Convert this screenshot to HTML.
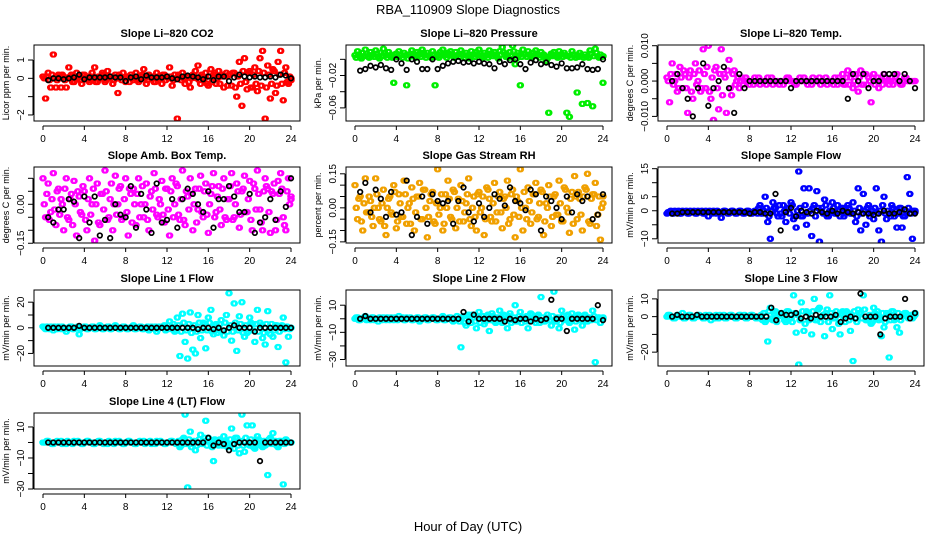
<!DOCTYPE html>
<html><head><meta charset="utf-8"><style>
body{margin:0;background:#fff;}
svg{display:block;font-family:"Liberation Sans",sans-serif;}
</style></head><body>
<svg id="chart" width="936" height="540">
<text x="468" y="14" text-anchor="middle" font-size="13">RBA_110909  Slope Diagnostics</text>
<text x="468" y="531" text-anchor="middle" font-size="13">Hour of Day (UTC)</text>
</svg>
<script>
const co2Vals=[0.1,-1.1,0.3,-0.5,1.3,-0.5,0.2,-0.5,0.1,-0.5,0.6,0.2,-0.2,0.3,0.1,-0.3,0.2,0.1,-0.2,0.3,0.6,-0.2,0.1,0.3,-0.2,0.4,0.1,-0.3,0.2,-0.8,0.1,0.3,-0.2,0.1,0.2,-0.1,0.3,-0.2,0.1,0.5,-0.3,0.2,0.1,-0.2,0.3,0.1,-0.3,0.2,0.1,0.6,-0.4,0.2,-2.2,0.1,0.3,-0.3,0.1,-0.5,0.2,0.4,0.7,-0.3,0.1,0.3,-0.4,0.5,0.2,-0.3,0.4,0.1,-0.5,0.3,0.2,-0.4,0.3,-1.0,0.9,-1.5,1.1,-0.6,0.4,-0.5,0.6,-0.7,1.1,1.5,-2.2,0.7,-1.1,0.5,-0.8,0.9,1.5,-1.2,0.6,-0.3,-0.1];
const co2Vals2=[0.0,0.1,-0.1,0.2,0.0,-0.1,0.1,0.2,-0.1,0.0,0.1,-0.2,0.1,0.0,-0.1,0.2,0.0,-0.1,0.1,0.0,-0.2,0.1,0.0,0.2,-0.1,0.0,0.1,-0.1,0.0,0.2,-0.1,0.0,0.1,-0.2,0.0,0.1,0.0,-0.1,0.2,0.0,-0.1,0.1,0.0,-0.2,0.1,0.0,0.2,-0.1,0.0,0.1,-0.1,0.0,0.2,-0.1,0.0,0.1,-0.2,0.0,0.1,0.0,-0.1,0.2,0.0,-0.3,0.1,-0.2,0.3,0.0,-0.3,0.2,0.1,-0.4,0.2,0.3,-0.5,0.1,-0.3,0.4,-0.2,0.3,-0.5,0.2,-0.3,0.4,-0.4,0.3,-0.5,0.2,-0.3,0.4,-0.4,0.2,-0.3,0.3,-0.2,0.1,0.0];
const co2Black=[-0.1,0,0,-0.05,0,0.05,0.2,-0.05,0.05,0.05,0.05,0.05,0.1,0.05,0.05,-0.15,0.05,0.1,-0.05,0.15,0.05,0.05,0.05,0.1,0.0,-0.05,0.1,0.15,0.1,0.05,-0.05,0.1,-0.1,0.1,0.1,-0.15,0.05,0.2,0.1,0.05,0.1,0.05,0.05,0.1,0.05,0.2,0.15,0.0];
const presVals=[0.005,0.01,0.003,0.008,0.012,0.004,0.009,0.006,0.011,0.003,0.008,0.013,0.005,0.009,0.004,-0.029,0.007,0.01,0.005,0.008,-0.032,0.006,0.011,0.004,0.009,0.007,0.012,0.005,0.008,0.004,0.01,-0.032,0.006,0.009,0.012,0.005,0.008,0.01,0.004,0.009,0.006,0.011,0.005,0.008,0.003,0.01,0.006,0.009,0.012,0.004,0.008,0.005,0.011,0.007,0.009,0.003,0.01,0.015,0.006,0.004,0.009,0.017,-0.006,0.008,-0.032,0.012,0.006,0.01,0.004,0.008,0.011,0.005,0.009,0.006,-0.002,-0.066,0.007,0.009,0.004,0.01,0.006,0.008,-0.066,-0.071,0.01,0.005,-0.041,0.008,-0.055,0.006,-0.054,0.011,-0.058,0.013,0.004,0.006,-0.029];
const presVals2=[0.002,0.006,0.001,0.004,0.007,0.002,0.005,0.003,0.007,0.001,0.004,0.008,0.002,0.005,0.002,0.006,0.003,0.006,0.002,0.005,0.001,0.004,0.007,0.002,0.005,0.003,0.008,0.002,0.005,0.002,0.006,0.003,0.002,0.005,0.007,0.002,0.005,0.006,0.002,0.005,0.003,0.007,0.002,0.005,0.001,0.006,0.003,0.005,0.007,0.002,0.005,0.002,0.007,0.004,0.005,0.001,0.006,0.009,0.003,0.002,0.005,0.01,0.001,0.005,0.003,0.007,0.003,0.006,0.002,0.005,0.007,0.002,0.005,0.003,0.001,0.004,0.004,0.005,0.002,0.006,0.003,0.005,0.004,0.002,0.006,0.002,0.003,0.005,0.002,0.003,0.002,0.007,0.004,0.008,0.002,0.003,0.004];
const presBlack=[-0.014,-0.012,-0.008,-0.01,-0.007,-0.011,-0.013,0.0,-0.005,-0.013,0.0,-0.003,-0.012,-0.012,0.0,-0.012,-0.008,-0.005,-0.003,-0.002,-0.004,-0.003,-0.005,-0.003,-0.005,-0.006,-0.011,-0.003,-0.006,-0.001,0.0,-0.006,-0.012,-0.004,-0.001,-0.006,-0.004,-0.007,-0.009,-0.005,-0.011,-0.011,-0.010,-0.006,-0.012,-0.013,-0.012,0.0];
const tempVals=[0.001,-0.006,0.005,0.0,-0.003,0.004,-0.002,0.002,-0.009,0.003,-0.005,0.005,0.0,-0.003,0.009,-0.002,0.010,-0.005,-0.011,0.004,-0.008,0.009,0.002,-0.009,0.006,-0.004,0.003,0.0,-0.002,0.001,0.0,0.0,-0.001,0.0,0.001,0.0,-0.001,0.0,0.0,0.001,0.0,-0.001,0.0,0.0,0.0,-0.001,0.0,0.001,0.0,0.0,-0.001,0.0,0.0,0.001,0.0,0.0,-0.001,0.0,0.0,0.001,0.0,0.0,-0.001,0.0,0.0,0.001,-0.001,0.0,0.002,-0.001,0.003,0.001,-0.002,0.002,-0.003,0.003,-0.001,0.002,0.001,-0.006,0.002,0.0,-0.002,0.001,0.002,0.0,-0.001,0.001,0.0,0.002,0.0,-0.001,0.001,0.0,0.0,0.0,0.0];
const tempVals2=[0.0,0.002,-0.001,0.002,-0.002,0.001,0.003,-0.002,0.001,-0.003,0.002,-0.001,0.003,-0.002,0.002,0.004,-0.003,0.001,0.003,-0.002,0.002,-0.004,0.001,0.003,-0.002,0.002,-0.001,0.001,0.0,-0.001,0.001,0.0,0.0,-0.001,0.0,0.001,0.0,0.0,-0.001,0.0,0.001,0.0,0.0,-0.001,0.0,0.0,0.001,0.0,0.0,-0.001,0.0,0.001,0.0,0.0,-0.001,0.0,0.001,0.0,0.0,-0.001,0.0,0.001,0.0,0.0,-0.001,0.0,0.001,0.0,-0.001,0.001,-0.001,0.002,0.0,-0.001,0.001,-0.001,0.002,-0.001,0.0,0.001,-0.001,0.001,0.0,-0.001,0.001,0.0,0.0,-0.001,0.001,0.0,-0.001,0.0,0.001,0.0,0.0,0.0,0.0];
const tempBlack=[0.0,0.002,-0.002,-0.005,-0.01,-0.002,0.005,-0.007,-0.002,0.0,0.004,-0.002,-0.009,0.002,-0.002,0.0,0.0,0.0,0.0,0.0,0.0,0.0,0.0,-0.002,0.0,0.0,0.0,0.0,0.0,0.0,0.0,0.0,0.0,0.0,-0.005,0.002,0.0,0.002,-0.002,0.0,0.0,0.002,0.002,0.002,0.0,0.002,0.0,-0.002];
const ambVals=[0.1,-0.05,0.08,-0.03,0.12,-0.08,0.06,0.02,-0.1,0.1,-0.06,0.04,0.09,-0.12,0.03,-0.04,0.05,-0.1,0.1,0.0,-0.14,0.08,-0.08,0.04,0.13,-0.06,0.02,-0.1,0.11,0.0,0.07,-0.05,0.1,-0.12,0.04,0.06,-0.08,0.1,0.0,-0.05,0.08,-0.1,0.05,0.12,-0.04,0.02,0.09,-0.07,0.06,-0.12,0.1,0.0,0.07,-0.06,0.13,-0.08,0.03,0.1,-0.1,0.06,-0.02,0.11,-0.05,0.08,-0.11,0.04,0.12,-0.03,0.07,-0.08,0.1,-0.06,0.02,0.12,-0.05,0.08,-0.09,0.05,0.11,-0.03,0.09,-0.1,0.06,0.13,-0.02,-0.1,0.1,0.06,-0.11,0.04,-0.1,0.09,0.12,-0.05,-0.1,0.1,0.03];
const ambVals2=[0.0,0.04,-0.06,0.02,-0.02,0.05,-0.04,0.0,0.06,-0.05,0.02,-0.08,0.0,0.05,-0.03,0.07,-0.06,0.02,-0.04,0.06,0.0,-0.07,0.04,-0.02,0.05,-0.05,0.08,0.0,-0.04,0.06,-0.06,0.02,-0.03,0.06,-0.07,0.0,0.04,-0.05,0.07,0.0,-0.06,0.03,-0.02,0.06,-0.05,0.0,-0.04,0.06,-0.02,0.05,-0.05,0.08,-0.04,0.02,-0.06,0.05,-0.02,0.04,0.0,-0.07,0.06,-0.03,0.05,-0.04,0.0,0.07,-0.05,0.03,-0.02,0.06,-0.05,0.02,0.07,-0.06,0.0,0.05,-0.04,0.06,-0.03,0.02,-0.06,0.08,-0.02,0.04,-0.07,0.05,0.07,-0.03,0.05,0.08,-0.06,0.04,0.06,-0.08,0.05,0.0,0.02];
const ambBlack=[-0.05,-0.07,-0.02,-0.02,0.02,0.01,-0.13,0.03,-0.07,0.03,-0.12,-0.06,-0.13,0.0,-0.04,-0.05,0.07,-0.09,0.04,-0.02,-0.11,0.08,-0.07,-0.06,0.02,-0.09,0.02,0.06,0.04,0.0,-0.03,0.05,-0.09,0.02,0.02,0.07,0.03,-0.03,-0.03,0.04,-0.11,-0.07,-0.05,0.02,-0.06,0.05,-0.01,0.1];
const rhVals=[0.1,-0.05,0.05,-0.1,0.13,-0.02,0.03,-0.08,0.13,0.0,-0.06,0.08,-0.12,0.04,-0.02,0.1,-0.09,0.06,-0.04,0.12,-0.07,0.02,0.09,-0.1,0.05,0.11,-0.05,0.08,-0.13,0.03,0.07,-0.07,0.17,0.0,-0.1,0.06,0.12,-0.04,0.08,-0.09,0.04,0.1,-0.06,0.02,0.13,-0.08,0.05,-0.1,0.07,0.0,-0.12,0.09,0.04,-0.06,0.11,-0.02,0.07,-0.09,0.05,0.12,-0.05,0.08,-0.13,0.03,0.17,-0.1,0.0,0.09,-0.07,0.06,0.11,-0.04,0.08,-0.12,0.02,0.1,-0.08,0.05,-0.03,0.12,-0.06,0.09,0.0,-0.11,0.07,0.14,-0.05,0.04,-0.1,0.09,0.15,-0.07,0.06,0.11,-0.03,-0.14,0.05];
const rhVals2=[0.0,0.04,-0.06,0.02,-0.02,0.05,-0.04,0.0,0.06,-0.05,0.02,-0.08,0.0,0.05,-0.03,0.07,-0.06,0.02,-0.04,0.06,0.0,-0.07,0.04,-0.02,0.05,-0.05,0.08,0.0,-0.04,0.06,-0.06,0.02,-0.03,0.06,-0.07,0.0,0.04,-0.05,0.07,0.0,-0.06,0.03,-0.02,0.06,-0.05,0.0,-0.04,0.06,-0.02,0.05,-0.05,0.08,-0.04,0.02,-0.06,0.05,-0.02,0.04,0.0,-0.07,0.06,-0.03,0.05,-0.04,0.0,0.07,-0.05,0.03,-0.02,0.06,-0.05,0.02,0.07,-0.06,0.0,0.05,-0.04,0.06,-0.03,0.02,-0.06,0.08,-0.02,0.04,-0.07,0.05,0.07,-0.03,0.05,0.08,-0.06,0.04,0.06,-0.08,0.05,0.0,0.02];
const rhBlack=[0.07,0.11,-0.02,0.08,0.04,-0.04,0.07,-0.03,-0.02,0.12,-0.12,-0.04,0.05,-0.07,0.06,0.03,0.02,0.03,-0.07,0.03,0.09,-0.02,-0.06,0.02,-0.04,0.0,0.06,0.04,0.01,0.09,0.03,0.02,-0.01,0.08,0.06,-0.10,0.05,0.03,0.00,-0.05,0.05,-0.02,0.06,0.03,0.05,-0.05,-0.03,0.06];
const sampVals=[-1,-0.5,-1,0,-0.5,-1,0,-0.5,-1,0,-0.5,-1,0,-0.5,-1,0,-2,-0.5,0,-1,-0.5,-2.5,0,-0.5,-1,0,-0.5,-1,0,-0.5,-1,0,-0.5,-1,0,-1,2,-1,5,-4,-10,3,1,-2,-1,2,-4,1,3,-3,-6,14,-2,8,-5,8,-9,2,7,-11,1,4,-2,0,3,-1,2,-2,1,-1,2,-1,3,-4,8,-7,6,-5,2,-1,-3,8,-7,-11,5,-3,-1,2,-2,-6,1,-6,-2,12,6,-10,0];
const sampVals2=[-0.5,0,-1,-0.5,0,-1,-0.5,0,-1,-0.5,0,-1,-0.5,0,-1,-0.5,0,-1,-0.5,0,-1,-0.5,0,-1,-0.5,0,-1,-0.5,0,-1,-0.5,0,-1,-0.5,0,1,-1,0,1,-2,0,1,-1,2,-2,0,1,-1,2,-2,0,1,-2,2,-1,0,1,-2,1,0,-1,2,-2,0,1,-1,0,1,-2,0,1,-1,0,-2,1,-1,0,1,-2,0,1,-1,0,2,-1,0,-2,1,0,-1,1,-2,0,1,-1,0,-0.5];
const sampBlack=[-1,-1,-0.5,-0.5,-0.5,-0.5,-0.5,-0.5,-0.5,-0.5,-0.5,-0.5,-0.5,-0.5,-0.5,-1,-0.5,-0.5,-1,-1,6,-7,-0.5,1,-2,0,-0.5,-1,0,-0.5,-1,0,-1,0,-0.5,-1,-0.5,-1,-1,-1.5,-1,0,-1,-1,-0.5,0.5,-1,-1];
const l1Vals=[1,-1,0,1,-2,0,1,-1,0,-3,0,1,-1,0,-5,0,1,-1,0,1,-1,0,2,-1,0,1,-1,0,2,0,-1,1,0,-1,0,2,-1,0,1,-1,0,-2,1,0,-3,1,0,2,-1,5,1,-3,8,-22,11,-11,-24,12,-17,-20,10,-8,4,-16,8,14,-5,3,-2,6,-6,10,27,-10,19,-18,9,20,-7,-4,8,3,-11,14,4,-8,-13,13,-5,-7,2,-15,1,8,-27,-7,0];
const l1Vals2=[0,1,-1,0,1,-1,0,1,-1,0,1,-1,0,1,-1,0,1,-1,0,1,-1,0,1,-1,0,1,-1,0,1,-1,0,1,-1,0,1,-1,0,1,-1,0,1,-1,0,1,-1,0,1,-2,2,-1,3,-2,2,-3,4,-2,3,-4,2,-3,4,-2,3,-2,4,-3,2,-4,3,-2,4,-3,2,-3,4,-2,3,-4,2,-3,4,-2,3,-3,2,-4,3,-2,3,-2,2,-3,2,-1,1,-1,0];
const l1Black=[0,0,0,0,0,0,1.5,0,0,0,0,0,0,0,0,0,0,0,0,0,0,0,0,0,0,0,0,0,0,-1,0,0,-1,0,-2,0,2,0,0,0,-3,0,0,0,0,0,0,0];
const l2Vals=[0,1,-1,0,2,0,-1,1,0,-2,0,1,-1,0,1,-1,0,2,0,-1,1,0,-1,0,1,-2,0,1,-1,0,1,0,-1,0,2,-1,0,1,-2,-1,0,-21,2,-5,3,-3,1,-7,5,0,-4,2,-9,4,-2,0,6,-3,2,-7,4,-1,10,-2,5,1,-2,-7,4,0,-3,3,16,-2,-1,1,-5,20,-2,-7,6,0,2,-3,4,-8,1,2,-5,3,-2,0,6,-32,1,-3,0];
const l2Vals2=[1,-1,0,1,-1,0,1,-1,0,1,-1,0,1,-1,0,1,-1,0,1,-1,0,1,-1,0,1,-1,0,1,-1,0,1,-1,0,1,-1,0,1,-1,0,2,-2,1,-3,2,-1,3,-2,1,-3,2,-2,3,-1,2,-3,1,-2,3,-1,2,-3,1,-2,2,-3,1,2,-2,3,-1,2,-3,1,-2,3,-1,2,-2,1,-3,2,-1,3,-2,1,-2,3,-1,2,-2,1,-1,2,-1,1,0,1];
const l2Black=[0,2,0,0,0,0,0,0,0,0,0,0,0,0,0,0,0,0,0,0,5,-2,3,0,0,0,0,0,-2,0,-1,0,0,-2,0,-1,0,14,0,0,-9,0,0,0,0,0,10,-1];
const l3Vals=[0,1,0,-1,1,0,2,-1,0,1,-1,0,1,0,-1,1,0,-2,0,1,-1,0,1,-1,0,1,0,-1,1,0,1,-1,0,1,0,-1,0,-2,-3,-14,5,-2,3,0,2,1,-3,3,-1,12,-9,-27,8,-8,3,-2,-10,10,-2,5,0,-11,4,12,-7,-1,1,-10,3,-3,2,-8,-25,-1,4,2,12,-2,-1,-4,5,1,-2,-11,-6,2,-23,3,-2,-6,-9,0,2,1,0,-1,2];
const l3Vals2=[1,0,-1,0,1,0,-1,0,1,0,-1,0,1,0,-1,0,1,0,-1,0,1,0,-1,0,1,0,-1,0,1,0,-1,0,1,0,-1,0,1,2,-2,3,-1,2,-3,1,2,-2,3,-1,-3,2,1,-2,3,-4,2,-1,3,-2,4,-3,1,2,-3,2,-1,3,-4,2,-1,3,-2,1,3,-3,2,-1,4,-2,1,-3,2,3,-1,2,-3,1,-2,3,-1,2,-2,1,2,-1,1,0,1];
const l3Black=[0,1,0,0,0,1,0,0,0,0,0,0,0,0,0,0,0,0,0,0,5,-2,2,1,1,2,-1,0,-1,1,0,0,0,1,-3,-1,0,-1,13,0,0,0,-10,-1,0,0,0,10,-1,2];
const l4Vals=[0,0,1,0,-1,0,0,1,0,-1,0,0,1,0,0,-1,0,1,0,0,-1,0,1,0,0,-1,0,0,1,0,0,-1,0,1,0,0,-1,0,0,1,0,0,-1,0,1,0,0,-1,0,0,1,0,0,-3,2,18,-29,7,-1,-5,0,5,1,14,3,-1,-12,1,-2,1,4,0,-2,9,-4,3,-7,18,-6,11,-2,11,-4,4,-1,-3,-2,-21,3,6,1,-3,1,-27,2,0,0];
const l4Vals2=[0,1,0,-1,0,1,0,-1,0,1,0,-1,0,1,0,-1,0,1,0,-1,0,1,0,-1,0,1,0,-1,0,1,0,-1,0,1,0,-1,0,1,0,-1,0,1,0,-1,0,1,0,-1,0,1,0,-1,1,-2,3,-1,2,-3,1,-2,2,-1,3,-2,1,-3,2,-1,2,-2,1,-3,2,-1,3,-2,1,-2,3,-1,2,-3,1,2,-2,1,-1,2,-1,1,-2,1,0,-1,1,0,0];
const l4Black=[0,0,0,0,0,0,0,0,0,0,0,0,0,0,0,0,0,0,0,0,0,0,0,0,0,0,0,0,0,0,0,3,-2,0,-1,-5,-1,0,0,0,0,-12,0,0,0,0,0,0];
const xTicks=[0,4,8,12,16,20,24];

const panels=[
 {name:'co2',title:'Slope Li\u2013820 CO2',ylab:'Licor ppm per min.',col:0,row:0,ymin:-2.33,ymax:1.82,ticks:[-2,-1,0,1],labels:['\u22122','','0','1'],series:[co2Vals,co2Vals2],black:co2Black,color:'#ff0000'},
 {name:'pressure',title:'Slope Li\u2013820 Pressure',ylab:'kPa per min.',col:1,row:0,ymin:-0.0762,ymax:0.0177,ticks:[-0.06,-0.04,-0.02,0],labels:['\u22120.06','','\u22120.02',''],series:[presVals,presVals2],black:presBlack,color:'#00ee00'},
 {name:'temp',title:'Slope Li\u2013820 Temp.',ylab:'degrees C per min.',col:2,row:0,ymin:-0.0113,ymax:0.0102,ticks:[-0.01,-0.005,0,0.005,0.01],labels:['\u22120.010','','0.000','','0.010'],series:[tempVals,tempVals2],black:tempBlack,color:'#ff00ff'},
 {name:'amb-box',title:'Slope Amb. Box Temp.',ylab:'degrees C per min.',col:0,row:1,ymin:-0.149,ymax:0.1435,ticks:[-0.15,-0.1,-0.05,0,0.05,0.1],labels:['\u22120.15','','','0.00','',''],series:[ambVals,ambVals2],black:ambBlack,color:'#ff00ff'},
 {name:'gas-rh',title:'Slope Gas Stream RH',ylab:'percent per min.',col:1,row:1,ymin:-0.155,ymax:0.18,ticks:[-0.15,-0.1,-0.05,0,0.05,0.1,0.15],labels:['\u22120.15','','','0.00','','','0.15'],series:[rhVals,rhVals2],black:rhBlack,color:'#f0a000'},
 {name:'sample-flow',title:'Slope Sample Flow',ylab:'mV/min per min.',col:2,row:1,ymin:-11.5,ymax:15.6,ticks:[-10,-5,0,5,10,15],labels:['\u221210','','0','5','','15'],series:[sampVals,sampVals2],black:sampBlack,color:'#0000ff'},
 {name:'line1',title:'Slope Line 1 Flow',ylab:'mV/min per min.',col:0,row:2,ymin:-29.8,ymax:29.5,ticks:[-20,-10,0,10,20],labels:['\u221220','','0','','20'],series:[l1Vals,l1Vals2],black:l1Black,color:'#00ffff'},
 {name:'line2',title:'Slope Line 2 Flow',ylab:'mV/min per min.',col:1,row:2,ymin:-34.8,ymax:21.2,ticks:[-30,-20,-10,0,10],labels:['\u221230','','\u221210','','10'],series:[l2Vals,l2Vals2],black:l2Black,color:'#00ffff'},
 {name:'line3',title:'Slope Line 3 Flow',ylab:'mV/min per min.',col:2,row:2,ymin:-27.8,ymax:15,ticks:[-20,-10,0,10],labels:['\u221220','','0','10'],series:[l3Vals,l3Vals2],black:l3Black,color:'#00ffff'},
 {name:'line4',title:'Slope Line 4 (LT) Flow',ylab:'mV/min per min.',col:0,row:3,ymin:-30,ymax:19,ticks:[-30,-20,-10,0,10],labels:['\u221230','','\u221210','','10'],series:[l4Vals,l4Vals2],black:l4Black,color:'#00ffff'}
];
const NS='http://www.w3.org/2000/svg';
const svg=document.getElementById('chart');
function mk(tag,attrs,parent){const e=document.createElementNS(NS,tag);for(const k in attrs)e.setAttribute(k,attrs[k]);parent.appendChild(e);return e;}
const colX=[34,346,658],rowY=[45,167,290,413],W=266,H=76;
const jitter=[-0.06,0.06];
panels.forEach(p=>{
 const L=colX[p.col],T=rowY[p.row],B=T+H;
 const g=mk('g',{},svg);
 
 
 const xs=h=>L+9+h*(248/24);
 const ys=v=>B-(v-p.ymin)/(p.ymax-p.ymin)*H;
 const t=mk('text',{x:L+W/2,y:T-8,'text-anchor':'middle','font-size':'11','font-weight':'bold'},g);
 t.textContent=p.title;
 
 
 const yt=mk('text',{transform:`translate(${L-25},${T+H/2}) rotate(-90)`,'text-anchor':'middle','font-size':'9'},g);
 yt.textContent=p.ylab;
 
 
 const xa=mk('g',{},g);
 
 
 mk('line',{x1:xs(0),x2:xs(24),y1:B+5,y2:B+5,stroke:'#000'},xa);
 xTicks.forEach(h=>{
  mk('line',{x1:xs(h),x2:xs(h),y1:B+5,y2:B+9,stroke:'#000'},xa);
  const tl=mk('text',{x:xs(h),y:B+21,'text-anchor':'middle','font-size':'10'},xa);
  tl.textContent=h;
  
  
 });
 const ya=mk('g',{},g);
 
 
 mk('line',{x1:L-1,x2:L-1,y1:ys(p.ticks[0]),y2:ys(p.ticks[p.ticks.length-1]),stroke:'#000'},ya);
 p.ticks.forEach((v,i)=>{
  mk('line',{x1:L-6,x2:L-1,y1:ys(v),y2:ys(v),stroke:'#000'},ya);
  if(p.labels[i]){
   const tl=mk('text',{transform:`translate(${L-10},${ys(v)}) rotate(-90)`,'text-anchor':'middle','font-size':'10'},ya);
   tl.textContent=p.labels[i];
   
   
  }
 });
 const cid='clip-'+p.name;
 const cp=mk('clipPath',{id:cid},g);
 mk('rect',{x:L,y:T,width:W,height:H},cp);
 const pts=mk('g',{'clip-path':`url(#${cid})`},g);
 
 
 p.series.forEach((arr,si)=>{
  const off=si*0.12;
  arr.forEach((v,i)=>{
   const h=Math.min(24,i*24/(arr.length-1)+off);
   jitter.forEach(dj=>{
    const c=mk('circle',{cx:xs(h+dj),cy:ys(v),r:2.3,fill:'none',stroke:p.color,'stroke-width':1.7},pts);
    
    
   });
  });
 });
 p.black.forEach((v,i)=>{
  const h=0.5+i*23.5/(p.black.length-1);
  const c=mk('circle',{cx:xs(h),cy:ys(v),r:2.3,fill:'none',stroke:'#000','stroke-width':1.7},pts);
  
  
 });
 const box=mk('rect',{x:L,y:T,width:W,height:H,fill:'none',stroke:'#000'},g);
 
 
});
</script>
</body></html>
